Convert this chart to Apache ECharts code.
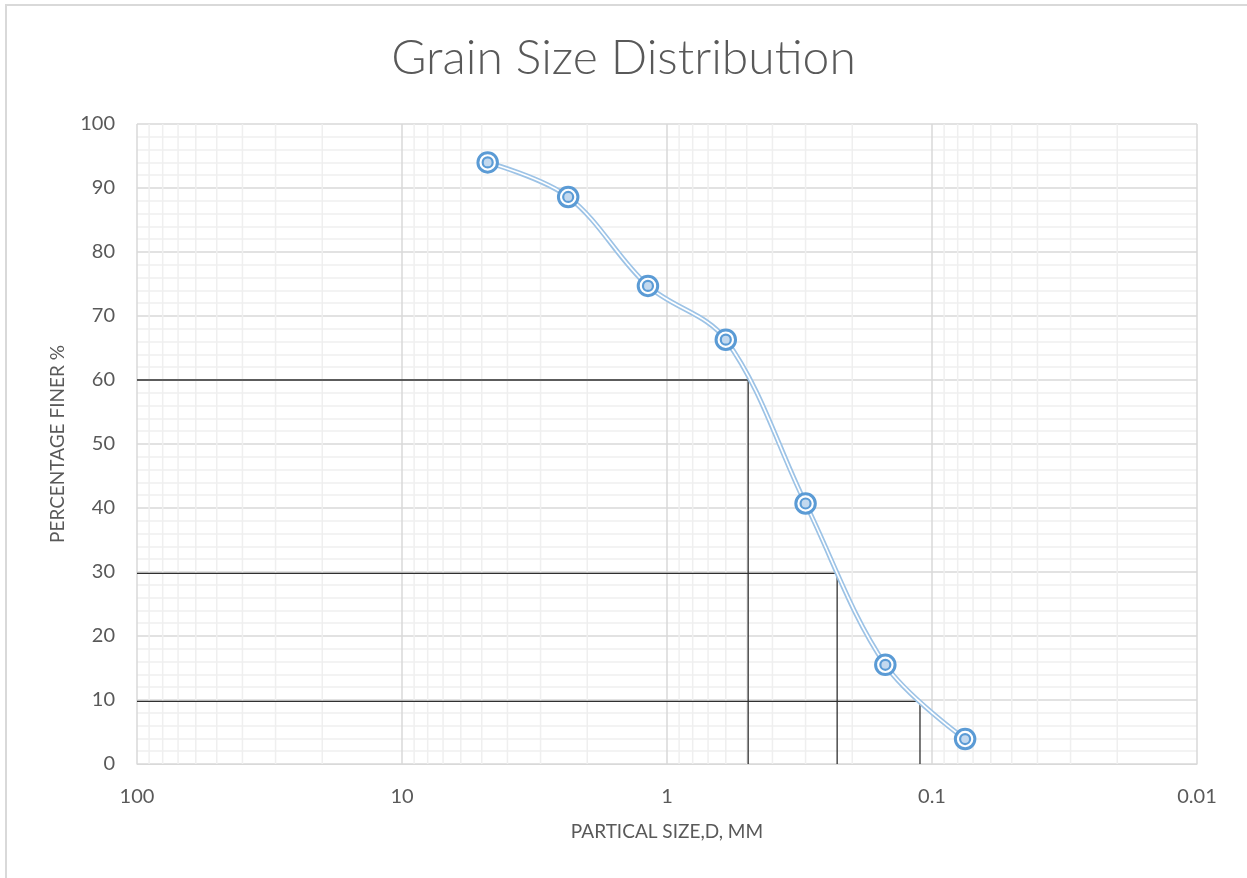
<!DOCTYPE html>
<html>
<head>
<meta charset="utf-8">
<script src="https://cdn.jsdelivr.net/npm/echarts@6/dist/echarts.min.js"></script>
<style>
html,body{margin:0;padding:0;background:#fff;}
#chart{width:1247px;height:878px;}
</style>
</head>
<body>
<div id="chart"></div>
<script>
// ---- data ----
var sizes = [4.75, 2.36, 1.18, 0.6, 0.3, 0.15, 0.075];
var finer = [94.0, 88.6, 74.7, 66.3, 40.7, 15.5, 3.9];
var refPct = [60, 29.8, 9.8];
var refD = [0.494, 0.228, 0.111];
var xTicks = [100, 10, 1, 0.1, 0.01];
var minorMult = [2, 3, 4, 5, 6, 7, 8, 9];

var titleText = 'Grain Size Distribution';
var xName = 'PARTICAL SIZE,D, MM';
var yName = 'PERCENTAGE FINER %';

// ---- build ----
var pts = sizes.map(function (s, i) { return [s, finer[i]]; });
var minorX = [];
xTicks.forEach(function (t) {
  if (t < 100) minorMult.forEach(function (m) { minorX.push([t * m, 0]); });
});

var refSeries = refPct.map(function (p, i) {
  return {
    type: 'line', silent: true, z: 3, symbol: 'none', animation: false,
    lineStyle: { color: '#303030', width: 1.3 },
    data: [[100, p], [refD[i], p], [refD[i], 0]]
  };
});

var FONT = 'Lato, "Open Sans", sans-serif';
var chart = echarts.init(document.getElementById('chart'));
chart.setOption({
  animation: false,
  title: {
    text: titleText, left: 'center', top: 30,
    textStyle: { fontFamily: FONT, fontWeight: 300, fontSize: 48, color: '#595959' }
  },
  graphic: [{
    type: 'rect', shape: { x: 6, y: 5, width: 1300, height: 950 },
    style: { fill: 'none', stroke: '#d9d9d9', lineWidth: 2 }, silent: true
  }],
  grid: { left: 137, right: 50, top: 124, bottom: 114 },
  xAxis: {
    type: 'log', logBase: 10, min: 0.01, max: 100, inverse: true,
    name: xName, nameLocation: 'middle', nameGap: 58,
    nameTextStyle: { fontFamily: FONT, fontSize: 19, color: '#595959' },
    axisLine: { show: true, lineStyle: { color: '#d9d9d9', width: 1 } },
    axisTick: { show: false },
    axisLabel: { fontFamily: FONT, fontSize: 20, color: '#595959', margin: 23,
      formatter: function (v) { return String(+v.toPrecision(3)); } },
    splitLine: { show: true, lineStyle: { color: '#d9d9d9', width: 1.5 } }
  },
  yAxis: {
    type: 'value', min: 0, max: 100, interval: 10,
    name: yName, nameLocation: 'middle', nameGap: 70,
    nameTextStyle: { fontFamily: FONT, fontSize: 19, color: '#595959' },
    axisLine: { show: false }, axisTick: { show: false },
    axisLabel: { fontFamily: FONT, fontSize: 20, color: '#595959', margin: 22 },
    splitLine: { show: true, lineStyle: { color: '#d9d9d9', width: 1.5 } },
    minorTick: { show: false, splitNumber: 5 },
    minorSplitLine: { show: true, lineStyle: { color: '#efefef', width: 1.5 } }
  },
  series: [
    {
      type: 'custom', silent: true, z: 1, data: minorX,
      renderItem: function (params, api) {
        var a = api.coord([api.value(0), 0]);
        var b = api.coord([api.value(0), 100]);
        return { type: 'line', shape: { x1: a[0], y1: a[1], x2: b[0], y2: b[1] },
          style: { stroke: '#efefef', lineWidth: 1.5 } };
      }
    }
  ].concat(refSeries).concat([
    { type: 'line', data: pts, smooth: 0.35, showSymbol: false, z: 4, silent: true,
      lineStyle: { color: '#9dc3e6', width: 5 } },
    { type: 'line', data: pts, smooth: 0.35, showSymbol: false, z: 5, silent: true,
      lineStyle: { color: '#ffffff', width: 1.6 } },
    { type: 'scatter', data: pts, symbol: 'circle', symbolSize: 19.5, z: 6, silent: true,
      itemStyle: { color: '#ffffff', borderColor: '#5b9bd5', borderWidth: 3, opacity: 1 } },
    { type: 'scatter', data: pts, symbol: 'circle', symbolSize: 10, z: 7, silent: true,
      itemStyle: { color: '#c3d9ef', borderColor: '#5b9bd5', borderWidth: 2.2, opacity: 1 } }
  ])
});
</script>
</body>
</html>
